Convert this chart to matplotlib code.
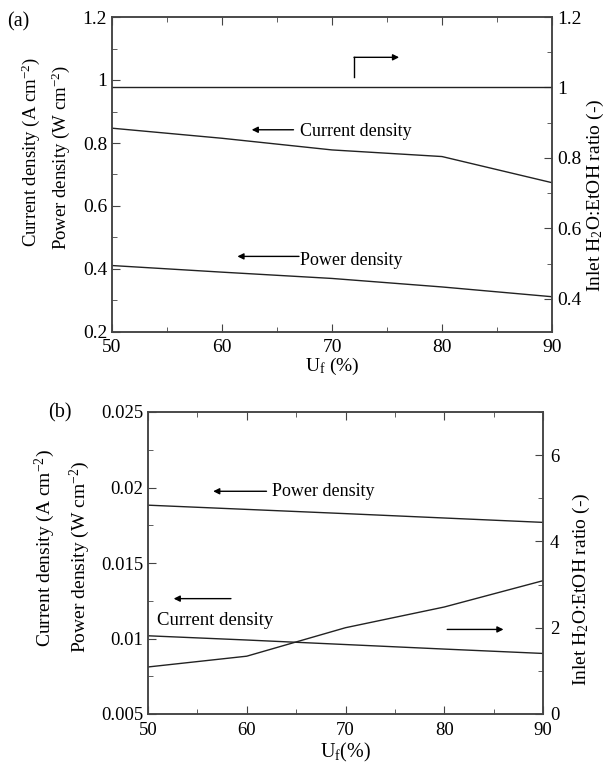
import numpy as np
import matplotlib
matplotlib.use('Agg')
import matplotlib.pyplot as plt
from matplotlib.ticker import MultipleLocator

plt.rcParams['font.family'] = ['Liberation Serif', 'DejaVu Serif']
plt.rcParams['mathtext.fontset'] = 'custom'
plt.rcParams['mathtext.rm'] = 'Liberation Serif'
plt.rcParams['mathtext.it'] = 'Liberation Serif:italic'

# fuel utilisation (%)
uf = [50, 60, 70, 80, 90]

# panel (a)
cur_a = [0.847, 0.815, 0.778, 0.757, 0.674]
pow_a = [0.411, 0.390, 0.370, 0.343, 0.312]
ratio_a = [1.0, 1.0, 1.0, 1.0, 1.0]

# panel (b)
pow_b = [0.01883, 0.01855, 0.01827, 0.01798, 0.01769]
cur_b = [0.01018, 0.00990, 0.00960, 0.00930, 0.00901]
ratio_b = [1.09, 1.34, 2.00, 2.48, 3.09]

LC = '#222222'
SC = '#444444'
W, H = 606, 766


def setup(ax, fs):
    for s in ax.spines.values():
        s.set_color(SC)
        s.set_linewidth(1.1)
    ax.tick_params(which='both', direction='in', colors=SC, labelcolor='k',
                   labelsize=fs, top=True)
    ax.tick_params(which='major', length=6)
    ax.tick_params(which='minor', length=3.5)


def arrow(ax, x0, y0, x1, y1):
    ax.annotate('', xy=(x1, y1), xytext=(x0, y0),
                arrowprops=dict(arrowstyle='-|>', color='k', lw=1.0,
                                mutation_scale=9, shrinkA=0, shrinkB=0))


fig = plt.figure(figsize=(W / 100, H / 100), dpi=100)

# ---------------- (a) ----------------
ax = fig.add_axes([112 / W, 1 - 332 / H, 440 / W, 315 / H])
setup(ax, 14)
ax.plot(uf, cur_a, color=LC, lw=1.0)
ax.plot(uf, pow_a, color=LC, lw=1.0)
ax.set_xlim(50, 90)
ax.set_ylim(0.2, 1.2)
ax.xaxis.set_major_locator(MultipleLocator(10))
ax.xaxis.set_minor_locator(MultipleLocator(5))
ax.yaxis.set_minor_locator(MultipleLocator(0.1))
ax.set_yticks([0.2, 0.4, 0.6, 0.8, 1.0, 1.2], ['0.2', '0.4', '0.6', '0.8', '1', '1.2'])
ax.tick_params(axis='x', pad=5)
ax.set_xlabel('U$_\\mathrm{f}$ (%)', fontsize=14, labelpad=0)

axr = ax.twinx()
setup(axr, 14)
axr.tick_params(top=False)
axr.plot(uf, ratio_a, color=LC, lw=1.0)
axr.set_ylim(0.306, 1.2)
axr.set_yticks([0.4, 0.6, 0.8, 1.0, 1.2], ['0.4', '0.6', '0.8', '1', '1.2'])
axr.yaxis.set_minor_locator(MultipleLocator(0.1))

arrow(ax, 66.5, 0.842, 62.7, 0.842)
ax.text(67.1, 0.836, 'Current density', fontsize=13, va='center', ha='left')
arrow(ax, 67.0, 0.44, 61.4, 0.44)
ax.text(67.1, 0.428, 'Power density', fontsize=13, va='center', ha='left')
ax.plot([72.0, 72.0], [1.01, 1.072], color='k', lw=1.0)
arrow(ax, 72.0, 1.072, 76.1, 1.072)

fig.text(18 / W, 1 - 22 / H, '(a)', fontsize=14.5, ha='center', va='center')
fig.text(31 / W, 1 - 152 / H, 'Current density (A cm$^{-2}$)', fontsize=13.5,
         rotation=90, ha='center', va='center')
fig.text(61 / W, 1 - 158 / H, 'Power density (W cm$^{-2}$)', fontsize=13.5,
         rotation=90, ha='center', va='center')
fig.text(595 / W, 1 - 195 / H, 'Inlet H$_2$O:EtOH ratio (-)', fontsize=14,
         rotation=90, ha='center', va='center')

# ---------------- (b) ----------------
bx = fig.add_axes([148 / W, 1 - 714 / H, 395 / W, 302 / H])
setup(bx, 13.5)
bx.plot(uf, pow_b, color=LC, lw=1.0)
bx.plot(uf, cur_b, color=LC, lw=1.0)
bx.set_xlim(50, 90)
bx.set_ylim(0.005, 0.025)
bx.xaxis.set_major_locator(MultipleLocator(10))
bx.xaxis.set_minor_locator(MultipleLocator(5))
bx.set_yticks([0.005, 0.01, 0.015, 0.02, 0.025],
              ['0.005', '0.01', '0.015', '0.02', '0.025'])
bx.yaxis.set_minor_locator(MultipleLocator(0.0025))
bx.tick_params(axis='x', pad=6)
bx.set_xlabel('U$_\\mathrm{f}$(%)', fontsize=14.5, labelpad=1)

bxr = bx.twinx()
setup(bxr, 13.5)
bxr.tick_params(top=False)
bxr.plot(uf, ratio_b, color=LC, lw=1.0)
bxr.set_ylim(0, 7)
bxr.yaxis.set_major_locator(MultipleLocator(2))
bxr.yaxis.set_minor_locator(MultipleLocator(1))
bxr.tick_params(axis='y', pad=5)

arrow(bx, 62.0, 0.01975, 56.6, 0.01975)
bx.text(62.6, 0.01975, 'Power density', fontsize=13, va='center', ha='left')
arrow(bx, 58.4, 0.01264, 52.6, 0.01264)
bx.text(50.9, 0.01121, 'Current density', fontsize=13.5, va='center', ha='left')
arrow(bx, 80.3, 0.0106, 86.0, 0.0106)

fig.text(60 / W, 1 - 413 / H, '(b)', fontsize=14.5, ha='center', va='center')
fig.text(45 / W, 1 - 548 / H, 'Current density (A cm$^{-2}$)', fontsize=14,
         rotation=90, ha='center', va='center')
fig.text(80 / W, 1 - 557 / H, 'Power density (W cm$^{-2}$)', fontsize=14,
         rotation=90, ha='center', va='center')
fig.text(581 / W, 1 - 589 / H, 'Inlet H$_2$O:EtOH ratio (-)', fontsize=14,
         rotation=90, ha='center', va='center')

fig.savefig('out.png', dpi=100)
